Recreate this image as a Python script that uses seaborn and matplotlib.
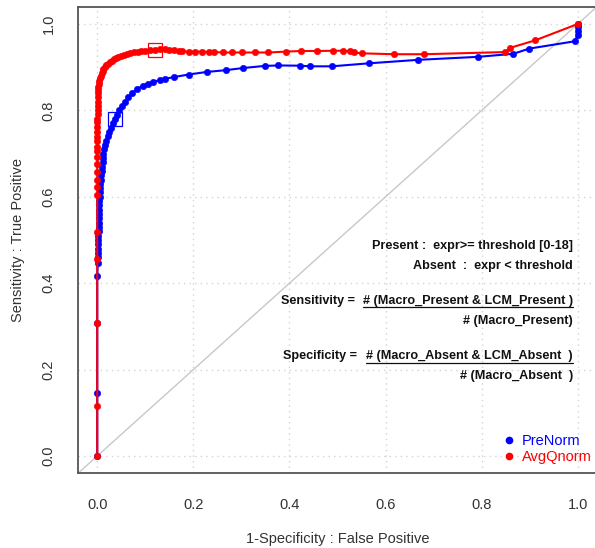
import matplotlib
matplotlib.use("Agg")
import matplotlib.pyplot as plt
import seaborn as sns
import pandas as pd
from matplotlib.lines import Line2D

# ROC points (1 - specificity, sensitivity) for each normalisation
prenorm_fpr = [0.0, 0.0, 0.0, 0.0, 0.001, 0.001, 0.001, 0.002, 0.002, 0.002,
               0.002, 0.003, 0.003, 0.003, 0.003, 0.003, 0.004, 0.004, 0.004, 0.005,
               0.005, 0.006, 0.006, 0.007, 0.008, 0.009, 0.010, 0.011, 0.012, 0.013,
               0.015, 0.017, 0.019, 0.022, 0.025, 0.028, 0.032, 0.037, 0.041, 0.046,
               0.052, 0.058, 0.065, 0.073, 0.083, 0.095, 0.105, 0.117, 0.130, 0.141,
               0.159, 0.190, 0.228, 0.267, 0.303, 0.349, 0.377, 0.421, 0.443, 0.488,
               0.566, 0.668, 0.793, 0.866, 0.899, 0.994, 1.0, 1.0, 1.0, 1.0]
prenorm_tpr = [0.0, 0.147, 0.307, 0.417, 0.447, 0.46, 0.47, 0.48, 0.49, 0.50,
               0.51, 0.52, 0.53, 0.54, 0.55, 0.56, 0.57, 0.58, 0.59, 0.60,
               0.61, 0.62, 0.63, 0.64, 0.65, 0.66, 0.67, 0.68, 0.69, 0.70,
               0.71, 0.72, 0.73, 0.74, 0.75, 0.76, 0.77, 0.78, 0.79, 0.80,
               0.81, 0.82, 0.83, 0.84, 0.85, 0.857, 0.862, 0.866, 0.870, 0.873,
               0.877, 0.883, 0.889, 0.893, 0.898, 0.903, 0.904, 0.9035, 0.902, 0.902,
               0.909, 0.917, 0.924, 0.931, 0.943, 0.960, 0.975, 0.984, 0.992, 1.0]

avgqnorm_fpr = [0.0, 0.0, 0.0, 0.0, 0.0, 0.0, 0.0, 0.0, 0.0, 0.0,
                0.0, 0.0, 0.0, 0.0, 0.0, 0.0, 0.0, 0.0, 0.0, 0.001,
                0.001, 0.001, 0.001, 0.001, 0.001, 0.002, 0.002, 0.003, 0.004, 0.005,
                0.007, 0.009, 0.011, 0.013, 0.016, 0.019, 0.022, 0.026, 0.030, 0.034,
                0.039, 0.044, 0.050, 0.056, 0.062, 0.069, 0.076, 0.084, 0.092, 0.100,
                0.110, 0.121, 0.130, 0.140, 0.150, 0.160, 0.170, 0.177, 0.190, 0.204,
                0.218, 0.233, 0.243, 0.261, 0.281, 0.301, 0.328, 0.356, 0.392, 0.425,
                0.457, 0.490, 0.511, 0.526, 0.534, 0.552, 0.618, 0.681, 0.849, 0.860,
                0.911, 1.0]
avgqnorm_tpr = [0.0, 0.116, 0.307, 0.457, 0.519, 0.604, 0.623, 0.639, 0.658, 0.675,
                0.693, 0.705, 0.716, 0.728, 0.739, 0.750, 0.762, 0.772, 0.781, 0.791,
                0.801, 0.810, 0.820, 0.830, 0.840, 0.848, 0.855, 0.862, 0.868, 0.874,
                0.880, 0.886, 0.891, 0.896, 0.900, 0.904, 0.908, 0.912, 0.915, 0.918,
                0.921, 0.924, 0.926, 0.928, 0.930, 0.932, 0.934, 0.935, 0.937, 0.938,
                0.939, 0.940, 0.941, 0.941, 0.940, 0.939, 0.938, 0.937, 0.936, 0.936,
                0.936, 0.935, 0.935, 0.934, 0.934, 0.934, 0.934, 0.934, 0.936, 0.9375,
                0.9375, 0.938, 0.938, 0.937, 0.934, 0.932, 0.930, 0.930, 0.935, 0.945,
                0.962, 1.0]

# optimal cut-off points
best_prenorm = (0.037, 0.78)
best_avgqnorm = (0.121, 0.940)

series_names = ["PreNorm", "AvgQnorm"]
series_colors = ["#0000FF", "#FF0000"]
tick_values = [0.0, 0.2, 0.4, 0.6, 0.8, 1.0]

sns.set_theme(style="white")
plt.rcParams["font.family"] = ["Liberation Sans", "DejaVu Sans"]

W, H = 595, 548
fig = plt.figure(figsize=(W / 100, H / 100), dpi=100)
ax = fig.add_axes([78 / W, (H - 473.3) / H, (597 - 78) / W, (473.3 - 6.7) / H])

ax.set_xlim(-0.04, 1.04)
ax.set_ylim(-0.04, 1.04)
ax.set_xticks(tick_values)
ax.set_yticks(tick_values)
ax.set_xticklabels([f"{v:.1f}" for v in tick_values])
ax.set_yticklabels([f"{v:.1f}" for v in tick_values])
ax.grid(True, color="#d3d3d3", linestyle=(0, (1, 3)), linewidth=1.0)
ax.set_axisbelow(True)

# chance diagonal
ax.axline((0, 0), (1, 1), color="#c8c8c8", linewidth=1.0, zorder=1)

frames = [
    pd.DataFrame({"fpr": prenorm_fpr, "tpr": prenorm_tpr}),
    pd.DataFrame({"fpr": avgqnorm_fpr, "tpr": avgqnorm_tpr}),
]
for df, col in zip(frames, series_colors):
    sns.lineplot(data=df, x="fpr", y="tpr", sort=False, estimator=None,
                 color=col, linewidth=1.5, marker="o", markersize=4.6,
                 markeredgecolor=col, markeredgewidth=0.4, ax=ax, zorder=3)

for (bx, by), col in zip([best_prenorm, best_avgqnorm], series_colors):
    ax.plot([bx], [by], marker="s", markersize=9.5, markerfacecolor="none",
            markeredgecolor=col, markeredgewidth=0.9, linestyle="", zorder=4)

for side in ["left", "right", "top", "bottom"]:
    ax.spines[side].set_color("#555555")
    ax.spines[side].set_linewidth(1.3)

ax.tick_params(axis="both", direction="out", length=7, width=1.1,
               color="#555555", labelcolor="#333333", labelsize=10.5)
ax.tick_params(axis="x", pad=11)
ax.tick_params(axis="y", pad=9)
for lab in ax.get_yticklabels():
    lab.set_rotation(90)
    lab.set_verticalalignment("center")

ax.set_xlabel("1-Specificity : False Positive", fontsize=10.5, color="#333333", labelpad=14)
ax.set_ylabel("Sensitivity : True Positive", fontsize=10.5, color="#333333", labelpad=12)

handles = [Line2D([], [], linestyle="", marker="o", markersize=4.5, color=c) for c in series_colors]
ax.legend(handles, series_names, loc="lower right", bbox_to_anchor=(0.99, 0.02),
          frameon=False, labelcolor=series_colors, fontsize=10.5,
          handlelength=0.8, handletextpad=0.5, labelspacing=0.15,
          borderaxespad=0, borderpad=0)

# definitions of the two rates
note_font = dict(family=["Liberation Sans Narrow", "Liberation Sans", "DejaVu Sans"],
                 fontweight="bold", fontsize=9.1, color="#111111", va="center")
rx = 0.99
ax.text(rx, 0.486, "Present :  expr>= threshold [0-18]", ha="right", **note_font)
ax.text(rx, 0.440, "Absent  :  expr < threshold", ha="right", **note_font)
ax.text(0.537, 0.359, "Sensitivity =", ha="right", **note_font)
sens_num = ax.text(rx, 0.359, "# (Macro_Present & LCM_Present )", ha="right", **note_font)
ax.text(rx, 0.3125, "# (Macro_Present)", ha="right", **note_font)
ax.text(0.541, 0.231, "Specificity =", ha="right", **note_font)
spec_num = ax.text(rx, 0.231, "# (Macro_Absent & LCM_Absent  )", ha="right", **note_font)
ax.text(rx, 0.185, "# (Macro_Absent  )", ha="right", **note_font)

# fraction bars under the numerators
fig.canvas.draw()
renderer = fig.canvas.get_renderer()
for t in [sens_num, spec_num]:
    bb = t.get_window_extent(renderer)
    y = (bb.y0 - 0.5) / H
    fig.add_artist(Line2D([bb.x0 / W, bb.x1 / W], [y, y], color="#111111",
                          linewidth=0.9, transform=fig.transFigure))

fig.savefig("out.png", dpi=100)
